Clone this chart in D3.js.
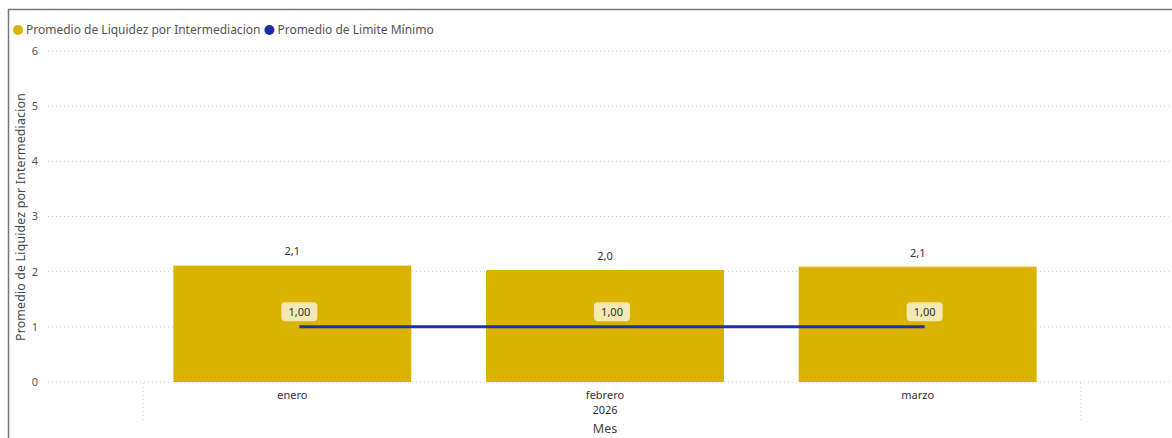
<!DOCTYPE html>
<html><head><meta charset="utf-8">
<script src="https://cdn.jsdelivr.net/npm/d3@7"></script>
<style>html,body{margin:0;padding:0;background:#fff;overflow:hidden}</style>
</head><body>
<svg id="c" width="1172" height="438"></svg>
<script>
const months = ["enero", "febrero", "marzo"];
const liquidez = [2.11, 2.03, 2.09];
const limite = [1.00, 1.00, 1.00];
const yTicks = [0, 1, 2, 3, 4, 5, 6];
const seriesNames = ["Promedio de Liquidez por Intermediacion", "Promedio de Limite Mínimo"];
const yearLabel = "2026";
const xTitle = "Mes";
const yTitle = "Promedio de Liquidez por Intermediacion";

const FONT = "'Noto Sans', 'Open Sans', sans-serif";
const barColor = "#d9b300", lineColor = "#1e32a3", dotBlue = "#1a2ea0";
const svg = d3.select("#c");

// frame
svg.append("line").attr("x1",8).attr("x2",1172).attr("y1",9.5).attr("y2",9.5).attr("stroke","#777").attr("stroke-width",1.5);
svg.append("line").attr("x1",8.5).attr("x2",8.5).attr("y1",9).attr("y2",438).attr("stroke","#777").attr("stroke-width",1.5);

const x = d3.scaleBand().domain(months).range([143, 1081]).paddingInner(0.239).paddingOuter(0.1195);
const y = d3.scaleLinear().domain([0, 6]).range([382, 51]);
const barShift = -7;

// gridlines
svg.append("g").selectAll("line").data(yTicks).join("line")
  .attr("x1", 48).attr("x2", 1172).attr("y1", d => y(d)).attr("y2", d => y(d))
  .attr("stroke", "#c8c8c8").attr("stroke-width", 1).attr("stroke-dasharray", "1,3");
// y tick labels
svg.append("g").selectAll("text").data(yTicks).join("text")
  .attr("x", 38).attr("y", d => y(d)).attr("dy", "0.35em").attr("text-anchor", "end")
  .attr("font-family", FONT).attr("font-size", 11).attr("fill", "#555").text(d => d);

// vertical dotted separators on x axis
svg.append("g").selectAll("line").data(x.range()).join("line")
  .attr("x1", d => d).attr("x2", d => d).attr("y1", 383).attr("y2", 421)
  .attr("stroke", "#c8c8c8").attr("stroke-dasharray", "1,3");

// bars
svg.append("g").selectAll("rect").data(months).join("rect")
  .attr("x", d => x(d) + barShift).attr("width", x.bandwidth())
  .attr("y", (d, i) => y(liquidez[i])).attr("height", (d, i) => y(0) - y(liquidez[i]))
  .attr("fill", barColor);

const bx = d => x(d) + barShift + x.bandwidth() / 2;
// bar labels
const fmt1 = v => d3.format(".1f")(v).replace(".", ",");
const fmt2 = v => d3.format(".2f")(v).replace(".", ",");
svg.append("g").selectAll("text").data(months).join("text")
  .attr("x", d => bx(d)).attr("y", (d, i) => y(liquidez[i]) - 14)
  .attr("dy", "0.35em").attr("text-anchor", "middle")
  .attr("font-family", FONT).attr("font-size", 11).attr("fill", "#333")
  .text((d, i) => fmt1(liquidez[i]));

// line
const lx = d => x(d) + x.bandwidth() / 2;
svg.append("path").datum(months)
  .attr("d", d3.line().x(d => lx(d)).y((d, i) => y(limite[i])))
  .attr("fill", "none").attr("stroke", lineColor).attr("stroke-width", 3);

// line labels
const lg = svg.append("g").selectAll("g").data(months).join("g")
  .attr("transform", (d, i) => `translate(${lx(d)},${y(limite[i]) - 15})`);
lg.append("rect").attr("x", -18).attr("y", -9.5).attr("width", 36).attr("height", 19)
  .attr("rx", 4).attr("fill", "#f5e9b3");
lg.append("text").attr("text-anchor", "middle").attr("dy", "0.35em")
  .attr("font-family", FONT).attr("font-size", 11).attr("fill", "#333")
  .text((d, i) => fmt2(limite[i]));

// x labels
svg.append("g").selectAll("text").data(months).join("text")
  .attr("x", d => bx(d)).attr("y", 395).attr("dy", "0.35em")
  .attr("text-anchor", "middle").attr("font-family", FONT).attr("font-size", 11).attr("fill", "#333")
  .text(d => d);
svg.append("text").attr("x", bx(months[1])).attr("y", 410).attr("dy", "0.35em")
  .attr("text-anchor", "middle").attr("font-family", FONT).attr("font-size", 11).attr("fill", "#333")
  .text(yearLabel);
svg.append("text").attr("x", bx(months[1])).attr("y", 429).attr("dy", "0.35em")
  .attr("text-anchor", "middle").attr("font-family", FONT).attr("font-size", 12.5).attr("fill", "#444")
  .text(xTitle);

// y title
svg.append("text").attr("transform", "translate(21,217) rotate(-90)").attr("dy", "0.35em")
  .attr("text-anchor", "middle").attr("font-family", FONT).attr("font-size", 12.3).attr("fill", "#444")
  .attr("letter-spacing", "0.2").text(yTitle);

// legend
const legColors = [barColor, dotBlue];
let lxPos = 18;
const leg = svg.append("g");
seriesNames.forEach((n, i) => {
  leg.append("circle").attr("cx", lxPos).attr("cy", 30).attr("r", 5).attr("fill", legColors[i]);
  const t = leg.append("text").attr("x", lxPos + 8).attr("y", 30).attr("dy", "0.35em")
    .attr("font-family", FONT).attr("font-size", 12).attr("fill", "#555").text(n);
  lxPos += 8 + t.node().getComputedTextLength() + 9;
});
</script>
</body></html>
